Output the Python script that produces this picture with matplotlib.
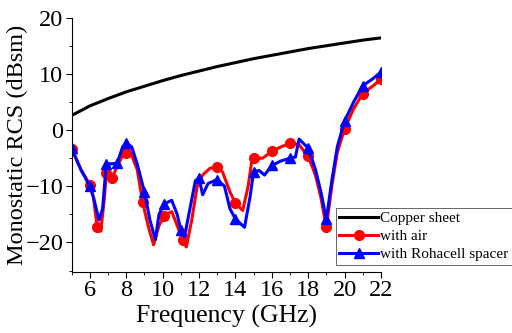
import numpy as np
import matplotlib
matplotlib.use("Agg")
from matplotlib import pyplot
from matplotlib.ticker import MultipleLocator

pyplot.rcParams["font.family"] = ["Liberation Serif", "DejaVu Serif"]

# copper sheet reference
f_cu = [5, 6, 7, 8, 9, 10, 11, 12, 13, 14, 15, 16, 17, 18, 19, 20, 21, 22]
rcs_cu = [2.6, 4.3, 5.6, 6.8, 7.8, 8.8, 9.7, 10.5, 11.3, 12.0, 12.7, 13.3,
          13.9, 14.5, 15.0, 15.5, 16.0, 16.4]

# absorber with air gap
f_air = [5.0, 5.5, 6.0, 6.2, 6.4, 6.6, 6.8, 6.9, 7.2, 7.5, 7.8, 8.0, 8.3, 8.6,
         8.9, 9.2, 9.5, 9.8, 10.1, 10.5, 10.8, 11.1, 11.3, 11.6, 11.9, 12.2,
         12.6, 13.0, 13.3, 13.7, 14.0, 14.4, 14.7, 14.9, 15.0, 15.5, 16.0,
         16.5, 17.0, 17.5, 18.0, 18.4, 18.7, 19.0, 19.3, 19.6, 20.0, 20.5,
         21.0, 21.5, 22.0]
rcs_air = [-3.4, -7, -9.7, -12, -17.3, -18, -12, -7.7, -8.6, -6.5, -4.5, -4.1,
           -4.5, -7, -12.8, -17, -20.4, -17, -15.2, -14.5, -17, -19.6, -20.8,
           -16, -10, -8, -6.8, -6.6, -7.5, -11, -13, -14.3, -10, -5.5, -5,
           -5, -3.8, -3, -2.3, -2.6, -4.7, -8, -12, -17.3, -10, -4, 0.2, 3.8,
           6.5, 7.7, 9]
mark_air = [5.0, 6.0, 6.4, 6.9, 7.2, 8.0, 8.9, 10.1, 11.1, 13.0, 14.0, 15.0,
            16.0, 17.0, 18.0, 19.0, 20.0, 21.0, 22.0]

# absorber with Rohacell spacer
f_roh = [5.0, 5.5, 6.0, 6.2, 6.5, 6.7, 6.9, 7.2, 7.5, 7.8, 8.0, 8.3, 8.6, 9.0,
         9.3, 9.6, 9.8, 10.1, 10.5, 10.8, 11.0, 11.2, 11.5, 11.8, 12.0, 12.2,
         12.5, 13.0, 13.4, 13.7, 14.0, 14.5, 14.8, 15.0, 15.3, 15.6, 16.0,
         16.5, 17.0, 17.3, 17.5, 18.0, 18.4, 18.7, 19.0, 19.3, 19.6, 20.0,
         20.5, 21.0, 21.5, 22.0]
rcs_roh = [-3.2, -7, -10, -12, -16, -14, -6, -6, -5.9, -3, -2.3, -3, -6, -11,
           -16, -19.5, -15, -13.1, -12.5, -15, -17.8, -19, -14, -9, -8.6,
           -11.5, -9.5, -8.8, -10, -14, -15.8, -17.3, -12, -7.4, -7.2, -8,
           -6.3, -5.5, -5, -4.8, -1.6, -3.2, -7, -11, -15.9, -9, -3, 1.6, 5,
           7.9, 9, 10.3]
mark_roh = [5.0, 6.0, 6.9, 7.5, 8.0, 9.0, 10.1, 11.0, 12.0, 13.0, 14.0, 15.0,
            16.0, 17.0, 18.0, 19.0, 20.0, 21.0, 22.0]

fig = pyplot.figure(figsize=(5.12, 3.33), dpi=100)
ax = fig.add_axes([0.140, 0.184, 0.604, 0.763])

ax.plot(f_cu, rcs_cu, c="k", lw=2.2, label="Copper sheet")
ax.plot(f_air, rcs_air, c="r", lw=2.2, marker="o", ms=7,
        markevery=[f_air.index(f) for f in mark_air], label="with air")
ax.plot(f_roh, rcs_roh, c="b", lw=2.2, marker="^", ms=7.5,
        markevery=[f_roh.index(f) for f in mark_roh], label="with Rohacell spacer")

ax.set_xlim(5, 22)
ax.set_ylim(-25.2, 20)
ax.xaxis.set_major_locator(MultipleLocator(2))
ax.xaxis.set_minor_locator(MultipleLocator(1))
ax.yaxis.set_major_locator(MultipleLocator(10))
ax.yaxis.set_minor_locator(MultipleLocator(5))
ax.spines["top"].set_visible(False)
ax.spines["right"].set_visible(False)
ax.tick_params(which="major", direction="out", length=4, labelsize=17.5, pad=2)
ax.tick_params(which="minor", direction="out", length=2.5)
ax.set_xlabel("Frequency (GHz)", fontsize=18.5, labelpad=3)
ax.set_ylabel("Monostatic RCS (dBsm)", fontsize=17.5, labelpad=-2)

leg = ax.legend(loc="lower right", bbox_to_anchor=(1.0, 0.204),
                bbox_transform=fig.transFigure, fontsize=11, fancybox=False,
                edgecolor="0.3", framealpha=1, borderpad=0.25, labelspacing=0.28,
                handlelength=2.5, handletextpad=0.15, borderaxespad=0)
leg.get_frame().set_linewidth(0.6)

pyplot.savefig("out.png", dpi=100)
